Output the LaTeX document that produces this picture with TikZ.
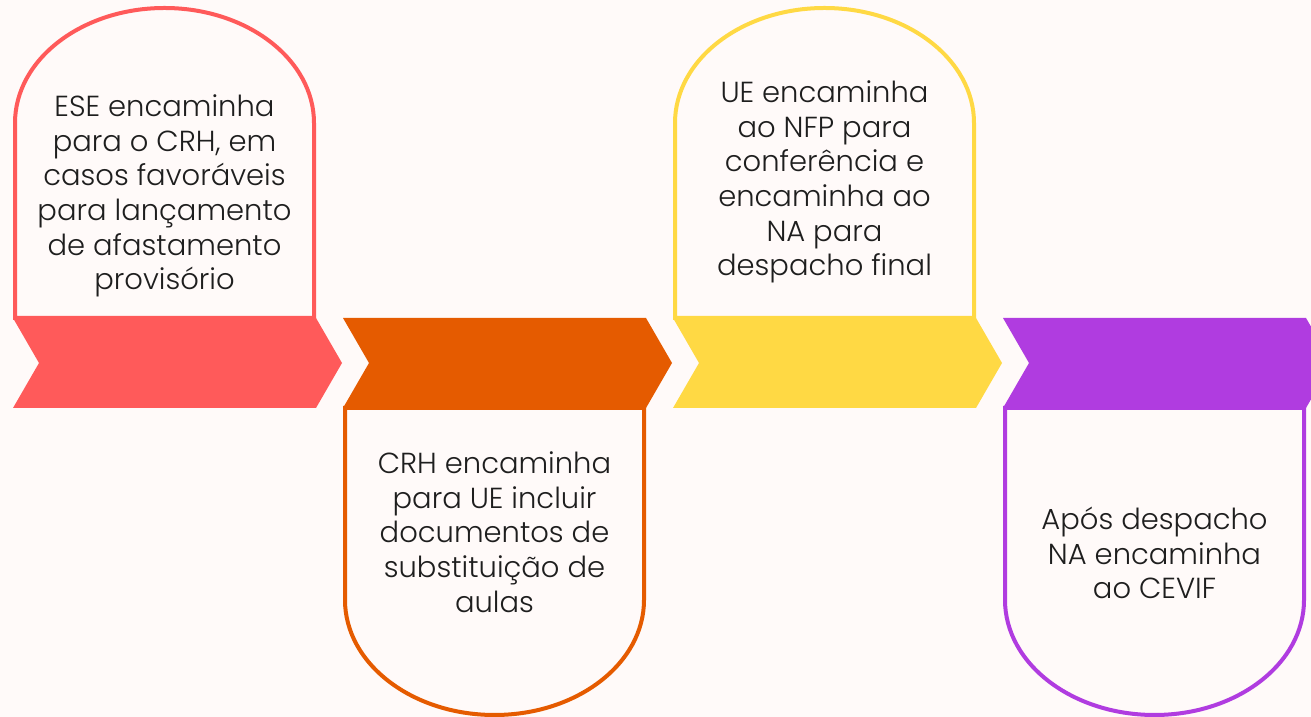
\documentclass[tikz,border=0pt]{standalone}
\usepackage{fontspec}
\setmainfont{Poppins Light}
\definecolor{bgpink}{HTML}{FFFAF9}
\definecolor{stepred}{HTML}{FF5A5A}
\definecolor{steporange}{HTML}{E55B00}
\definecolor{stepyellow}{HTML}{FFD944}
\definecolor{steppurple}{HTML}{B03CE0}
\definecolor{inktext}{HTML}{1E1E1E}
\begin{document}
\begin{tikzpicture}[x=1pt,y=1pt]
	
	% Style for the texts and the cards
	\tikzstyle{steptext}=[
	text=inktext,
	align=center,
	font=\fontsize{29}{34.7}\selectfont
	]
	\tikzstyle{card}=[
	line width=4pt,
	fill=bgpink
	]
	\useasboundingbox (0,0) rectangle (1311,717);
	\fill[bgpink] (0,0) rectangle (1311,717);
	\clip (0,0) rectangle (1311,717);
	
	% --- Cards above the band ---
	\draw[card, draw=stepred] (15,399) -- (15,594) arc[start angle=180, end angle=0, x radius=149.5, y radius=115] -- (314,399) -- cycle;
	\draw[card, draw=stepyellow] (675,399) -- (675,594) arc[start angle=180, end angle=0, x radius=149.5, y radius=115] -- (974,399) -- cycle;
	
	% --- Cards below the band ---
	\draw[card, draw=steporange] (345,309) -- (345,117) arc[start angle=180, end angle=360, x radius=149.5, y radius=115] -- (644,309) -- cycle;
	\draw[card, draw=steppurple] (1005,309) -- (1005,117) arc[start angle=180, end angle=360, x radius=149.5, y radius=115] -- (1304,309) -- cycle;
	
	% --- Band of chevrons ---
	\foreach \i/\col in {0/stepred,1/steporange,2/stepyellow,3/steppurple}
	\fill[\col] ({13+330*\i},399) -- ++(303,0) -- ++(26,-45) -- ++(-26,-45) -- ++(-303,0) -- ++(26,45) -- cycle;
	
	% --- Texts ---
	\node[steptext] (ese) at (164.5,521) {ESE encaminha\\para o CRH, em\\casos favoráveis\\para lançamento\\de afastamento\\provisório};
	\node[steptext] (crh) at (494.5,185) {CRH encaminha\\para UE incluir\\documentos de\\substituição de\\aulas};
	\node[steptext] (ue) at (824.5,535) {UE encaminha\\ao NFP para\\conferência e\\encaminha ao\\NA para\\despacho final};
	\node[steptext] (apos) at (1154.5,164) {Após despacho\\NA encaminha\\ao CEVIF};
\end{tikzpicture}
\end{document}
